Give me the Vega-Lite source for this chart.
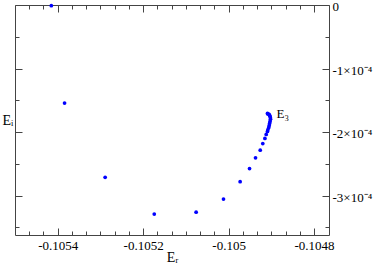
{
  "$schema": "https://vega.github.io/schema/vega-lite/v6.json",
  "width": 314,
  "height": 230,
  "autosize": {"type": "none"},
  "padding": {"left": 15, "top": 5, "right": 45, "bottom": 32},
  "background": "white",
  "config": {
    "view": {"stroke": null},
    "axis": {
      "labelFont": "Liberation Serif",
      "titleFont": "Liberation Serif",
      "labelFontSize": 13,
      "titleFontSize": 14,
      "titleFontWeight": "normal",
      "domainColor": "#444",
      "tickColor": "#444",
      "labelColor": "#000",
      "titleColor": "#000",
      "grid": false
    }
  },
  "datasets": {
    "pts": [
      {"Er": -0.105415, "Ei": -0.000001},
      {"Er": -0.105384, "Ei": -0.0001543},
      {"Er": -0.105289, "Ei": -0.0002712},
      {"Er": -0.105174, "Ei": -0.000329},
      {"Er": -0.105076, "Ei": -0.000326},
      {"Er": -0.105012, "Ei": -0.0003054},
      {"Er": -0.104973, "Ei": -0.000278},
      {"Er": -0.104951, "Ei": -0.0002575},
      {"Er": -0.104937, "Ei": -0.0002406},
      {"Er": -0.104926, "Ei": -0.0002286},
      {"Er": -0.10492, "Ei": -0.000218},
      {"Er": -0.104915, "Ei": -0.00021},
      {"Er": -0.104912, "Ei": -0.0002038},
      {"Er": -0.104909, "Ei": -0.000199},
      {"Er": -0.104908, "Ei": -0.000196},
      {"Er": -0.104906, "Ei": -0.0001927},
      {"Er": -0.104905, "Ei": -0.0001896},
      {"Er": -0.104904, "Ei": -0.0001864},
      {"Er": -0.104903, "Ei": -0.0001833},
      {"Er": -0.104902, "Ei": -0.00018},
      {"Er": -0.104902, "Ei": -0.0001777},
      {"Er": -0.104903, "Ei": -0.0001754},
      {"Er": -0.104904, "Ei": -0.0001738},
      {"Er": -0.104905, "Ei": -0.0001722},
      {"Er": -0.104908, "Ei": -0.0001714},
      {"Er": -0.104909, "Ei": -0.0001706}
    ],
    "lab": [
      {"Er": -0.104909, "Ei": -0.0001706, "t": "E₃"}
    ]
  },
  "layer": [
    {
      "data": {"name": "pts"},
      "mark": {"type": "circle", "size": 14, "color": "#0000ff", "opacity": 1},
      "encoding": {
        "x": {
          "field": "Er", "type": "quantitative",
          "scale": {"domain": [-0.1055, -0.104765], "nice": false, "zero": false},
          "axis": {
            "orient": "bottom",
            "values": [-0.1054, -0.1052, -0.105, -0.1048],
            "labelExpr": "replace(format(datum.value, '.4~f'), '−', '-')",
            "tickSize": -7,
            "labelPadding": 11,
            "labelFlush": false,
            "labelFontSize": 13,
            "labelFont": "Liberation Serif",
            "title": "Eᵣ",
            "titleFontSize": 14,
            "titleBaseline": "alphabetic",
            "titleY": 26
          }
        },
        "y": {
          "field": "Ei", "type": "quantitative",
          "scale": {"domain": [-0.000362, 0], "nice": false, "zero": false},
          "axis": {
            "orient": "right",
            "values": [0, -0.0001, -0.0002, -0.0003],
            "labelExpr": "datum.value == 0 ? '0' : '-' + round(-datum.value * 10000) + '×10⁻⁴'",
            "tickSize": -7,
            "labelPadding": 10,
            "labelOffset": 1.5,
            "labelFlush": false,
            "labelFontSize": 13,
            "labelFont": "Liberation Serif",
            "title": null
          }
        }
      }
    },
    {
      "data": {"name": "pts"},
      "mark": {"type": "point", "opacity": 0},
      "encoding": {
        "x": {
          "field": "Er", "type": "quantitative",
          "scale": {"domain": [-0.1055, -0.104765], "nice": false, "zero": false},
          "axis": {
            "orient": "bottom",
            "values": [-0.10546667, -0.10543333, -0.10536667, -0.10533333, -0.1053, -0.10526667, -0.10523333, -0.10516667, -0.10513333, -0.1051, -0.10506667, -0.10503333, -0.10496667, -0.10493333, -0.1049, -0.10486667, -0.10483333],
            "labels": false, "domain": false, "tickSize": -4, "title": null
          }
        },
        "y": {
          "field": "Ei", "type": "quantitative",
          "scale": {"domain": [-0.000362, 0], "nice": false, "zero": false},
          "axis": {
            "orient": "right",
            "values": [-0.00005, -0.00015, -0.00025, -0.00035],
            "labels": false, "domain": false, "tickSize": -4, "title": null
          }
        }
      }
    },
    {
      "data": {"name": "pts"},
      "mark": {"type": "point", "opacity": 0},
      "encoding": {
        "x": {
          "field": "Er", "type": "quantitative",
          "scale": {"domain": [-0.1055, -0.104765], "nice": false, "zero": false},
          "axis": {
            "orient": "top",
            "values": [-0.1054, -0.1052, -0.105, -0.1048],
            "labels": false, "tickSize": -7, "title": null
          }
        },
        "y": {
          "field": "Ei", "type": "quantitative",
          "scale": {"domain": [-0.000362, 0], "nice": false, "zero": false},
          "axis": {
            "orient": "left",
            "values": [0, -0.0001, -0.0002, -0.0003],
            "labels": false, "tickSize": -7,
            "title": "Eᵢ",
            "titleFontSize": 14,
            "titleAngle": 0,
            "titleAlign": "left",
            "titleBaseline": "middle",
            "titleX": -13,
            "titleY": 115
          }
        }
      }
    },
    {
      "data": {"name": "pts"},
      "mark": {"type": "point", "opacity": 0},
      "encoding": {
        "x": {
          "field": "Er", "type": "quantitative",
          "scale": {"domain": [-0.1055, -0.104765], "nice": false, "zero": false},
          "axis": {
            "orient": "top",
            "values": [-0.10546667, -0.10543333, -0.10536667, -0.10533333, -0.1053, -0.10526667, -0.10523333, -0.10516667, -0.10513333, -0.1051, -0.10506667, -0.10503333, -0.10496667, -0.10493333, -0.1049, -0.10486667, -0.10483333],
            "labels": false, "domain": false, "tickSize": -4, "title": null
          }
        },
        "y": {
          "field": "Ei", "type": "quantitative",
          "scale": {"domain": [-0.000362, 0], "nice": false, "zero": false},
          "axis": {
            "orient": "left",
            "values": [-0.00005, -0.00015, -0.00025, -0.00035],
            "labels": false, "domain": false, "tickSize": -4, "title": null
          }
        }
      }
    },
    {
      "data": {"name": "lab"},
      "mark": {"type": "text", "align": "left", "baseline": "middle", "dx": 9, "dy": 1, "font": "Liberation Serif", "fontSize": 13, "color": "#000"},
      "encoding": {
        "x": {"field": "Er", "type": "quantitative", "scale": {"domain": [-0.1055, -0.104765], "nice": false, "zero": false}, "axis": null},
        "y": {"field": "Ei", "type": "quantitative", "scale": {"domain": [-0.000362, 0], "nice": false, "zero": false}, "axis": null},
        "text": {"field": "t"}
      }
    }
  ],
  "resolve": {"axis": {"x": "independent", "y": "independent"}}
}
